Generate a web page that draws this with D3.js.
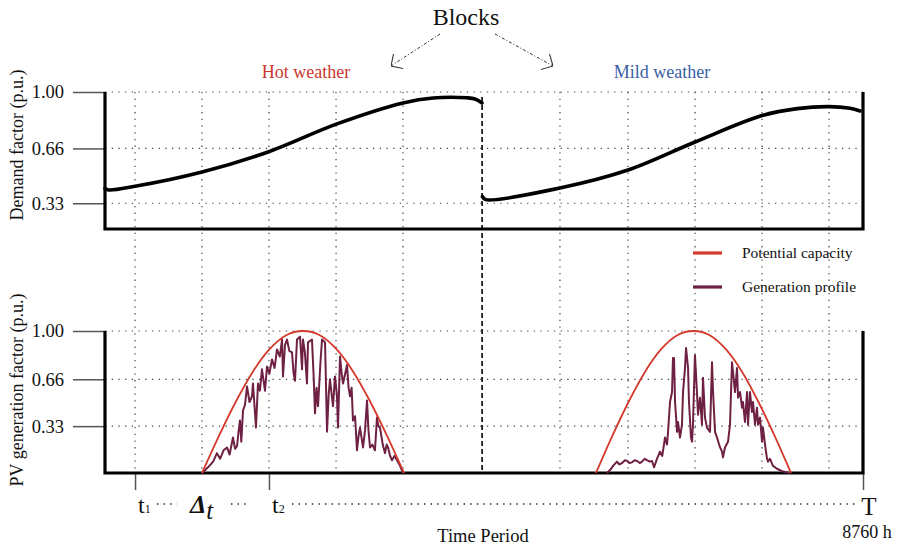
<!DOCTYPE html>
<html>
<head>
<meta charset="utf-8">
<script src="https://cdn.jsdelivr.net/npm/d3@7"></script>
<style>
  body { margin: 0; background: #fff; }
  svg { display: block; font-family: "Liberation Serif", "Times New Roman", serif; }
</style>
</head>
<body>
<div id="chart"></div>
<script>
// ---- data (hours of the year, per-unit values) ----
const totalHours = 8760;
const blockSplit = 4358;
const blockNames = ["Hot weather", "Mild weather"];
const yTicks = [0.33, 0.66, 1.0];
const gridHours = [347, 1121, 1895, 2670, 3444, 5258, 6044, 6819, 7593, 8367];
const timeTicks = [347, 1895, 8760];

const demandHotHours = [0, 40, 347, 1121, 1884, 2681, 3444, 3791, 4184, 4276, 4357];
const demandHotValues = [0.42, 0.41, 0.432, 0.518, 0.639, 0.808, 0.934, 0.964, 0.965, 0.958, 0.934];
const demandMildHours = [4362, 4400, 5258, 6044, 6819, 7593, 8000, 8367, 8610, 8726];
const demandMildValues = [0.37, 0.352, 0.422, 0.53, 0.699, 0.858, 0.9, 0.912, 0.902, 0.886];

const potHotHours = [1121, 1316, 1510, 1705, 1899, 2094, 2289, 2483, 2678, 2872, 3067, 3261, 3456];
const potMildHours = [5674, 5862, 6050, 6238, 6425, 6613, 6801, 6989, 7177, 7365, 7552, 7740, 7928];
const potValues = [0, 0.26, 0.5, 0.71, 0.87, 0.97, 1.0, 0.97, 0.87, 0.71, 0.5, 0.26, 0];

const genHotHours = [1121, 1190, 1250, 1294, 1330, 1370, 1410, 1440, 1479, 1503, 1526, 1545, 1560, 1575,
  1595, 1618, 1641, 1670, 1699, 1710, 1745, 1768, 1790, 1814, 1849, 1872, 1900, 1930, 1960, 1988,
  2020, 2046, 2057, 2080, 2103, 2130, 2161, 2180, 2196, 2219, 2254, 2277, 2288, 2310, 2334, 2346,
  2392, 2410, 2427, 2445, 2462, 2490, 2508, 2543, 2566, 2585, 2600, 2635, 2658, 2680, 2693, 2716,
  2735, 2751, 2797, 2815, 2832, 2850, 2866, 2890, 2912, 2930, 2947, 2982, 3005, 3028, 3045, 3063,
  3090, 3120, 3143, 3160, 3178, 3210, 3236, 3255, 3271, 3295, 3317, 3345, 3375, 3410, 3444];
const genHotValues = [0, 0.04, 0.08, 0.14, 0.1, 0.16, 0.18, 0.13, 0.25, 0.17, 0.19, 0.3, 0.37, 0.22,
  0.44, 0.48, 0.61, 0.5, 0.54, 0.63, 0.32, 0.63, 0.58, 0.73, 0.58, 0.75, 0.7, 0.8, 0.74, 0.87,
  0.82, 0.94, 0.68, 0.9, 0.94, 0.86, 0.85, 0.7, 0.65, 0.94, 0.96, 0.73, 0.94, 0.85, 0.63, 0.92,
  0.94, 0.7, 0.42, 0.6, 0.47, 0.78, 0.94, 0.92, 0.29, 0.55, 0.66, 0.47, 0.68, 0.55, 0.32, 0.82,
  0.7, 0.63, 0.76, 0.6, 0.54, 0.6, 0.37, 0.4, 0.16, 0.26, 0.32, 0.18, 0.3, 0.51, 0.3, 0.18,
  0.2, 0.16, 0.39, 0.33, 0.32, 0.2, 0.14, 0.2, 0.18, 0.12, 0.09, 0.12, 0.09, 0.05, 0];

const genMildHours = [5802, 5850, 5871, 5917, 5945, 5975, 6010, 6033, 6060, 6091, 6120, 6148, 6180,
  6206, 6235, 6264, 6295, 6322, 6345, 6379, 6414, 6440, 6472, 6495, 6507, 6530, 6553, 6564, 6576,
  6588, 6611, 6622, 6645, 6668, 6680, 6703, 6715, 6738, 6749, 6772, 6784, 6795, 6818, 6841, 6853,
  6876, 6899, 6911, 6934, 6957, 6992, 7015, 7027, 7050, 7073, 7108, 7131, 7142, 7165, 7200, 7223,
  7246, 7258, 7281, 7304, 7316, 7339, 7362, 7373, 7396, 7420, 7431, 7454, 7477, 7489, 7512, 7535,
  7547, 7570, 7593, 7604, 7628, 7651, 7662, 7685, 7720, 7766, 7836, 7917];
const genMildValues = [0, 0.03, 0.05, 0.08, 0.06, 0.07, 0.09, 0.085, 0.07, 0.075, 0.09, 0.085, 0.07,
  0.08, 0.1, 0.09, 0.08, 0.085, 0.04, 0.1, 0.15, 0.12, 0.25, 0.2, 0.29, 0.5, 0.57, 0.81, 0.81,
  0.5, 0.29, 0.36, 0.25, 0.34, 0.57, 0.74, 0.88, 0.74, 0.5, 0.25, 0.22, 0.34, 0.83, 0.57, 0.41,
  0.53, 0.34, 0.67, 0.39, 0.32, 0.29, 0.78, 0.57, 0.29, 0.25, 0.18, 0.15, 0.11, 0.18, 0.22, 0.34,
  0.78, 0.71, 0.57, 0.74, 0.53, 0.57, 0.46, 0.5, 0.36, 0.57, 0.34, 0.57, 0.43, 0.5, 0.34, 0.46,
  0.34, 0.39, 0.22, 0.32, 0.2, 0.1, 0.08, 0.1, 0.05, 0.03, 0.01, 0];

const legendLabels = ["Potential capacity", "Generation profile"];
const legendColors = ["#d33a2c", "#6e2142"];

// ---- layout ----
const width = 899, height = 549;
const serif = "Liberation Serif, Times New Roman, serif";
const svg = d3.select("#chart").append("svg")
  .attr("width", width)
  .attr("height", height)
  .attr("font-family", serif);

const x = d3.scaleLinear().domain([0, totalHours]).range([105, 863]);
const yTop = d3.scaleLinear().domain([0.175, 1]).range([229, 92]);
const yBot = d3.scaleLinear().domain([0, 1]).range([473, 331]);

const zip = (hs, vs) => hs.map((h, i) => ({ h: h, v: vs[i] }));

// dotted grid
const dotted = "1.3,5.4";
svg.append("g").selectAll("line")
  .data(gridHours)
  .join("line")
  .attr("x1", d => x(d)).attr("x2", d => x(d))
  .attr("y1", yTop(1)).attr("y2", yBot(0))
  .attr("stroke", "#444").attr("stroke-width", 1.2)
  .attr("stroke-dasharray", dotted);

[yTop, yBot].forEach(function (y) {
  svg.append("g").selectAll("line")
    .data(yTicks)
    .join("line")
    .attr("x1", x(0)).attr("x2", x(totalHours))
    .attr("y1", d => y(d)).attr("y2", d => y(d))
    .attr("stroke", "#444").attr("stroke-width", 1.2)
    .attr("stroke-dasharray", dotted);
});

// y axes (ticks + labels only)
[yTop, yBot].forEach(function (y) {
  const g = svg.append("g")
    .attr("transform", `translate(${x(0)},0)`)
    .call(d3.axisLeft(y).tickValues(yTicks).tickSize(32).tickPadding(9).tickFormat(d3.format(".2f")));
  g.attr("font-family", serif);
  g.select(".domain").remove();
  g.selectAll(".tick line").attr("stroke", "#555").attr("stroke-width", 1.5);
  g.selectAll(".tick text")
    .attr("font-size", "18.5px").attr("fill", "#111");
});

// bottom time ticks
const gx = svg.append("g")
  .attr("transform", `translate(0,${yBot(0)})`)
  .call(d3.axisBottom(x).tickValues(timeTicks).tickSize(17).tickFormat(""));
gx.select(".domain").remove();
gx.selectAll(".tick line").attr("stroke", "#555").attr("stroke-width", 1.5);

// block divider
svg.append("line")
  .attr("x1", x(blockSplit)).attr("x2", x(blockSplit))
  .attr("y1", 97).attr("y2", yBot(0))
  .attr("stroke", "#000").attr("stroke-width", 1.6)
  .attr("stroke-dasharray", "5,3");

// frame lines
function frame(y, y0, y1) {
  const g = svg.append("g").attr("stroke", "#000").attr("stroke-width", 3.2).attr("fill", "none");
  g.append("path").attr("d", `M${x(0)},${y(y1)}V${y(y0)}H${x(totalHours)}V${y(y1)}`);
}
frame(yTop, 0.175, 1);
frame(yBot, 0, 1);

// demand curves
const demandLine = d3.line().x(d => x(d.h)).y(d => yTop(d.v)).curve(d3.curveCatmullRom.alpha(0.5));
[zip(demandHotHours, demandHotValues), zip(demandMildHours, demandMildValues)].forEach(function (data) {
  svg.append("path")
    .datum(data)
    .attr("fill", "none")
    .attr("stroke", "#000")
    .attr("stroke-width", 3.6)
    .attr("stroke-linecap", "round")
    .attr("d", demandLine);
});

// PV curves
const genLine = d3.line().x(d => x(d.h)).y(d => yBot(d.v));
const potLine = d3.line().x(d => x(d.h)).y(d => yBot(d.v)).curve(d3.curveCardinal);

[zip(genHotHours, genHotValues), zip(genMildHours, genMildValues)].forEach(function (data) {
  svg.append("path")
    .datum(data)
    .attr("fill", "none")
    .attr("stroke", legendColors[1])
    .attr("stroke-width", 2)
    .attr("stroke-linejoin", "round")
    .attr("d", genLine);
});
[zip(potHotHours, potValues), zip(potMildHours, potValues)].forEach(function (data) {
  svg.append("path")
    .datum(data)
    .attr("fill", "none")
    .attr("stroke", legendColors[0])
    .attr("stroke-width", 1.8)
    .attr("d", potLine);
});

// legend
const legend = svg.append("g").attr("transform", "translate(693,253)");
legendLabels.forEach(function (label, i) {
  legend.append("line")
    .attr("x1", 0).attr("x2", 29)
    .attr("y1", i * 34).attr("y2", i * 34)
    .attr("stroke", legendColors[i]).attr("stroke-width", 3.2);
  legend.append("text")
    .attr("x", 49).attr("y", i * 34 + 5)
    .attr("font-size", "15.5px").attr("fill", "#111")
    .text(label);
});

// titles
svg.append("text").attr("x", 466).attr("y", 25).attr("text-anchor", "middle")
  .attr("font-size", "24px").attr("fill", "#111").text("Blocks");
svg.append("text").attr("x", 306).attr("y", 78).attr("text-anchor", "middle")
  .attr("font-size", "18px").attr("fill", "#c8372d").text(blockNames[0]);
svg.append("text").attr("x", 662).attr("y", 78).attr("text-anchor", "middle")
  .attr("font-size", "18px").attr("fill", "#3a60a4").text(blockNames[1]);

// arrows
svg.append("defs").append("marker")
  .attr("id", "open-arrow")
  .attr("viewBox", "0 0 10 20")
  .attr("refX", 10).attr("refY", 10)
  .attr("markerUnits", "userSpaceOnUse")
  .attr("markerWidth", 9).attr("markerHeight", 18)
  .attr("orient", "auto")
  .append("path")
  .attr("d", "M0,0L10,10L0,20")
  .attr("fill", "none").attr("stroke", "#333").attr("stroke-width", 1.2);

[[440, 34, 391, 66], [495, 34, 553, 66]].forEach(function (a) {
  svg.append("line")
    .attr("x1", a[0]).attr("y1", a[1]).attr("x2", a[2]).attr("y2", a[3])
    .attr("stroke", "#333").attr("stroke-width", 1)
    .attr("stroke-dasharray", "3,2,1,2")
    .attr("marker-end", "url(#open-arrow)");
});

// y axis titles
svg.append("text").attr("transform", "translate(23,145) rotate(-90)")
  .attr("text-anchor", "middle").attr("font-size", "18px").attr("fill", "#111")
  .text("Demand factor (p.u.)");
svg.append("text").attr("transform", "translate(23,390) rotate(-90)")
  .attr("text-anchor", "middle").attr("font-size", "18px").attr("fill", "#111")
  .text("PV generation factor (p.u.)");

// time labels
const labelY = 513;
function tLabel(hx, sub) {
  const t = svg.append("text").attr("x", x(hx) + 3).attr("y", labelY)
    .attr("font-size", "24px").attr("fill", "#111");
  t.append("tspan").text("t");
  t.append("tspan").attr("font-size", "12px").text(sub);
}
tLabel(timeTicks[0], "1");
tLabel(timeTicks[1], "2");

const delta = svg.append("text").attr("x", x(1121) - 12).attr("y", labelY).attr("fill", "#111");
delta.append("tspan").attr("font-size", "26px").attr("font-style", "italic").attr("font-weight", "bold").text("Δ");
delta.append("tspan").attr("font-size", "25px").attr("font-style", "italic").attr("dy", 6).text("t");

svg.append("text").attr("x", x(totalHours) + 6).attr("y", 515).attr("text-anchor", "middle")
  .attr("font-size", "25px").attr("fill", "#111").text("T");
svg.append("text").attr("x", x(totalHours) + 4).attr("y", 538).attr("text-anchor", "middle")
  .attr("font-size", "18px").attr("fill", "#111").text(totalHours + " h");
svg.append("text").attr("x", 483).attr("y", 542).attr("text-anchor", "middle")
  .attr("font-size", "18.5px").attr("fill", "#111").text("Time Period");

// dotted leaders between the time labels
[[157, 177], [231, 247], [292, 855]].forEach(function (s) {
  svg.append("line")
    .attr("x1", s[0]).attr("x2", s[1]).attr("y1", 504).attr("y2", 504)
    .attr("stroke", "#222").attr("stroke-width", 1.5)
    .attr("stroke-dasharray", "1.4,5.2");
});
</script>
</body>
</html>
